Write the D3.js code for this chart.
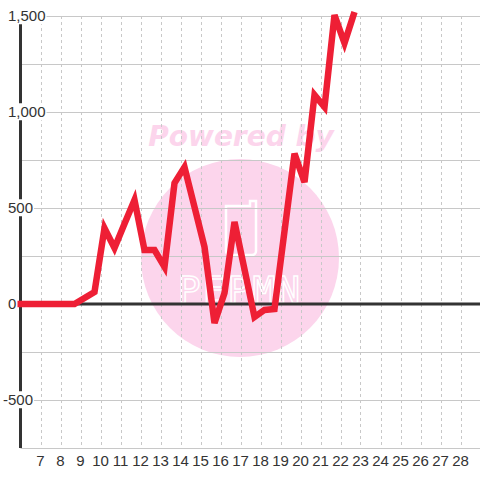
<!DOCTYPE html>
<html>
<head>
<meta charset="utf-8">
<script src="https://d3js.org/d3.v7.min.js"></script>
<style>
body { margin: 0; background: #fff; }
.tick-label { font: 15px "Liberation Sans", Arial, sans-serif; fill: #333; }
</style>
</head>
<body>
<svg id="chart"></svg>
<script>
// series
var xs = [5.85, 8.7, 9.7, 10.2, 10.7, 11.2, 11.7, 12.2, 12.7, 13.2, 13.7, 14.2, 14.7, 15.2, 15.7,
          16.2, 16.7, 17.2, 17.7, 18.2, 18.7, 19.2, 19.7, 20.2, 20.7, 21.2, 21.7, 22.2, 22.7];
var values = [0, 0, 62, 395, 292, 418, 542, 281, 281, 193, 630, 713, 505, 297, -99,
              57, 427, 180, -68, -31, -26, 380, 783, 635, 1089, 1026, 1505, 1359, 1521];
var xTicks = d3.range(7, 29);
var yGrid = d3.range(-750, 1501, 250);
var yTicks = [-500, 0, 500, 1000, 1500];

var width = 480, height = 480;
var plotLeft = 20.5, plotTop = 16, plotBottom = 448;

var x = d3.scaleLinear().domain([6, 29]).range([plotLeft, plotLeft + 460]);
var y = d3.scaleLinear().domain([-750, 1500]).range([plotBottom, plotTop]);

var svg = d3.select("#chart").attr("width", width).attr("height", height);

// watermark (under the grid)
var wm = svg.append("g");
wm.append("circle").attr("cx", 240).attr("cy", 258).attr("r", 99).attr("fill", "#fcd5ec");
wm.append("text")
    .attr("x", 241).attr("y", 146)
    .attr("text-anchor", "middle")
    .style("font", "italic bold 28px 'DejaVu Sans', sans-serif")
    .attr("fill", "#fcd5ec")
    .text("Powered by");
wm.append("path")
    .attr("d", "M226,206 h24 v-5 h6 v50 a4,4 0 0 1 -4,4 h-22 a4,4 0 0 1 -4,-4 z")
    .attr("fill", "none").attr("stroke", "#fff").attr("stroke-width", 2.5);
wm.append("text")
    .attr("x", 240).attr("y", 303)
    .attr("text-anchor", "middle")
    .style("font", "38px 'DejaVu Sans Mono', monospace")
    .attr("letter-spacing", 2)
    .attr("fill", "none").attr("stroke", "#fff").attr("stroke-width", 1.5)
    .text("PEPMN");

// grid
svg.append("g").selectAll("line").data(yGrid).enter().append("line")
    .attr("x1", plotLeft).attr("x2", width)
    .attr("y1", function(d) { return Math.round(y(d)) + 0.5; })
    .attr("y2", function(d) { return Math.round(y(d)) + 0.5; })
    .attr("stroke", "#c8c8c8").attr("stroke-width", 1);

svg.append("g").selectAll("line").data(xTicks).enter().append("line")
    .attr("x1", function(d) { return Math.round(x(d)) + 0.5; })
    .attr("x2", function(d) { return Math.round(x(d)) + 0.5; })
    .attr("y1", plotTop).attr("y2", plotBottom)
    .attr("stroke", "#c8c8c8").attr("stroke-width", 1).attr("stroke-dasharray", "3,3");

// zero line and y axis
svg.append("line")
    .attr("x1", plotLeft).attr("x2", width)
    .attr("y1", y(0)).attr("y2", y(0))
    .attr("stroke", "#333").attr("stroke-width", 3);
svg.append("line")
    .attr("x1", plotLeft).attr("x2", plotLeft)
    .attr("y1", plotTop).attr("y2", plotBottom)
    .attr("stroke", "#333").attr("stroke-width", 3);

// y labels with white box, digits start at x = 8
var fmt = d3.format(",");
var yl = svg.append("g").selectAll("g").data(yTicks).enter().append("g")
    .attr("transform", function(d) { return "translate(" + (d < 0 ? 3 : 8) + "," + y(d) + ")"; });
yl.append("text")
    .attr("class", "tick-label")
    .attr("dy", "0.35em")
    .text(function(d) { return fmt(d).replace("\u2212", "-"); });
yl.each(function() {
    var g = d3.select(this), b = g.select("text").node().getBBox();
    g.insert("rect", "text")
        .attr("x", b.x - 1).attr("y", b.y)
        .attr("width", b.width + 2).attr("height", b.height)
        .attr("fill", "#fff");
});

// series line
var line = d3.line()
    .x(function(d, i) { return x(xs[i]); })
    .y(function(d) { return y(d); });

svg.append("path")
    .datum(values)
    .attr("d", line)
    .attr("fill", "none")
    .attr("stroke", "#ee1f35")
    .attr("stroke-width", 6.5)
    .attr("stroke-linejoin", "miter");

// x labels
svg.append("g").selectAll("text").data(xTicks).enter().append("text")
    .attr("class", "tick-label")
    .attr("text-anchor", "middle")
    .attr("x", function(d) { return x(d); })
    .attr("y", 466)
    .text(function(d) { return d; });
</script>
</body>
</html>
